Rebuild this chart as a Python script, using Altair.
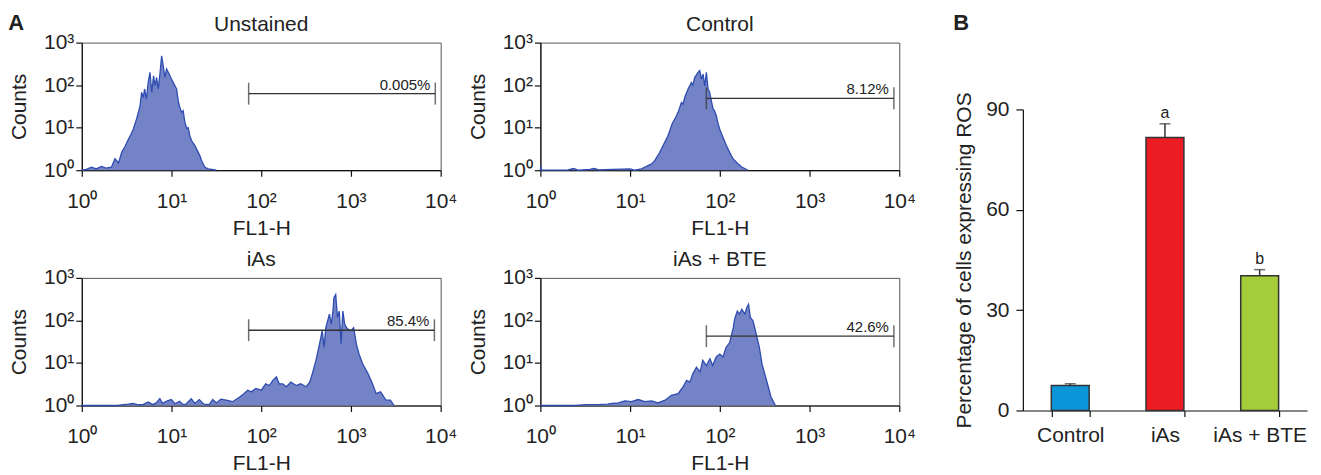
import altair as alt
import pandas as pd

FONT = "Liberation Sans"
INK = "#222222"
FILL = "#7383c6"
EDGE = "#2f4db0"

# ---- panel A: flow cytometry histograms (x = log10 FL1-H, y = log10 counts) ----
PANELS = ["Unstained", "Control", "iAs", "iAs + BTE"]

UNSTAINED_X = [0.00, 0.05, 0.11, 0.16, 0.22, 0.27, 0.33, 0.37, 0.41, 0.445, 0.48, 0.52, 0.55, 0.575,
               0.61, 0.63, 0.65, 0.667, 0.686, 0.70, 0.72, 0.74, 0.76, 0.78, 0.80, 0.816, 0.834,
               0.853, 0.871, 0.89, 0.908, 0.927, 0.945, 0.964, 0.983, 1.001, 1.02, 1.04, 1.057,
               1.075, 1.09, 1.112, 1.13, 1.149, 1.17, 1.187, 1.205, 1.224, 1.24, 1.261, 1.28,
               1.298, 1.32, 1.335, 1.355, 1.372, 1.41, 1.45, 1.50]
UNSTAINED_Y = [0.00, 0.02, 0.07, 0.03, 0.09, 0.05, 0.07, 0.27, 0.17, 0.42, 0.55, 0.73, 0.85, 0.97,
               1.20, 1.35, 1.52, 1.83, 1.71, 1.91, 1.67, 2.06, 2.30, 1.83, 2.22, 1.98, 2.18,
               1.91, 2.26, 2.69, 2.45, 2.18, 2.38, 2.30, 2.22, 2.14, 2.06, 1.98, 1.91,
               1.63, 1.50, 1.36, 1.40, 1.13, 0.98, 1.00, 0.80, 0.70, 0.64, 0.58, 0.50,
               0.42, 0.32, 0.23, 0.14, 0.07, 0.03, 0.02, 0.00]

CONTROL_X = [0.00, 0.005, 0.01, 0.30, 0.37, 0.42, 0.55, 0.60, 0.65, 0.80, 1.00, 1.05, 1.127, 1.20,
             1.24, 1.276, 1.331, 1.387, 1.42, 1.442, 1.47, 1.498, 1.535, 1.572, 1.59, 1.609,
             1.646, 1.683, 1.70, 1.72, 1.757, 1.776, 1.795, 1.813, 1.832, 1.85, 1.869, 1.887,
             1.906, 1.924, 1.94, 1.961, 1.98, 1.998, 2.036, 2.073, 2.11, 2.147, 2.18, 2.202,
             2.24, 2.277, 2.314]
CONTROL_Y = [0.00, 0.10, 0.00, 0.00, 0.04, 0.00, 0.02, 0.04, 0.01, 0.02, 0.03, 0.00, 0.03, 0.11,
             0.15, 0.23, 0.42, 0.66, 0.80, 0.93, 1.10, 1.20, 1.36, 1.59, 1.55, 1.71,
             1.91, 2.06, 2.00, 2.18, 2.30, 2.34, 2.14, 2.26, 1.98, 2.30, 1.91, 1.83,
             1.63, 1.44, 1.40, 1.28, 1.10, 0.97, 0.77, 0.58, 0.42, 0.27, 0.20, 0.15,
             0.08, 0.04, 0.00]

IAS_X = [0.00, 0.40, 0.46, 0.52, 0.57, 0.62, 0.68, 0.74, 0.79, 0.83, 0.87, 0.90, 0.94, 0.997, 1.04,
         1.09, 1.13, 1.16, 1.22, 1.26, 1.31, 1.36, 1.42, 1.46, 1.50, 1.55, 1.61, 1.68, 1.76, 1.81,
         1.85, 1.89, 1.94, 2.00, 2.05, 2.09, 2.13, 2.17, 2.20, 2.24, 2.28, 2.33, 2.39, 2.44, 2.50,
         2.54, 2.57, 2.61, 2.65, 2.68, 2.70, 2.72, 2.76, 2.78, 2.80, 2.81, 2.83, 2.85, 2.87, 2.89,
         2.91, 2.93, 2.96, 3.00, 3.03, 3.06, 3.09, 3.13, 3.19, 3.24, 3.28, 3.33, 3.39, 3.44, 3.48]
IAS_Y = [0.00, 0.00, 0.02, 0.03, 0.05, 0.02, 0.02, 0.08, 0.02, 0.06, 0.16, 0.05, 0.10, 0.14, 0.04,
         0.10, 0.02, 0.03, 0.16, 0.05, 0.14, 0.03, 0.02, 0.14, 0.06, 0.15, 0.125, 0.09, 0.20, 0.28,
         0.36, 0.32, 0.40, 0.36, 0.51, 0.47, 0.59, 0.67, 0.51, 0.51, 0.44, 0.55, 0.47, 0.51, 0.44,
         0.55, 0.75, 1.06, 1.45, 1.76, 1.37, 1.83, 2.15, 1.91, 2.22, 2.53, 2.61, 2.07, 2.22, 1.45,
         2.22, 1.91, 1.80, 1.76, 1.83, 1.45, 1.21, 0.98, 0.75, 0.51, 0.28, 0.32, 0.125, 0.125, 0.00]

BTE_X = [0.00, 0.39, 0.50, 0.645, 0.75, 0.80, 0.87, 0.94, 1.016, 1.09, 1.164, 1.24, 1.31, 1.39,
         1.46, 1.535, 1.59, 1.63, 1.665, 1.70, 1.74, 1.78, 1.81, 1.85, 1.89, 1.92, 1.96, 2.00,
         2.035, 2.07, 2.11, 2.15, 2.165, 2.195, 2.22, 2.245, 2.28, 2.30, 2.32, 2.34, 2.37, 2.41,
         2.44, 2.47, 2.51, 2.54, 2.57, 2.62]
BTE_Y = [0.00, 0.00, 0.02, 0.02, 0.03, 0.05, 0.06, 0.11, 0.09, 0.14, 0.09, 0.11, 0.06, 0.125,
         0.24, 0.28, 0.44, 0.59, 0.55, 0.75, 0.90, 0.79, 1.06, 0.94, 1.10, 0.94, 1.14, 1.21,
         1.14, 1.37, 1.48, 1.83, 2.03, 2.22, 2.15, 2.26, 2.15, 2.30, 2.38, 2.07, 1.99, 1.64,
         1.37, 0.98, 0.67, 0.44, 0.20, 0.00]

HIST_X = [UNSTAINED_X, CONTROL_X, IAS_X, BTE_X]
HIST_Y = [UNSTAINED_Y, CONTROL_Y, IAS_Y, BTE_Y]

GATE_LO = [1.86, 1.85, 1.86, 1.85]
GATE_HI = [3.94, 3.94, 3.93, 3.94]
GATE_Y = [1.80, 1.69, 1.77, 1.63]
GATE_LABELS = ["0.005%", "8.12%", "85.4%", "42.6%"]

X_DECADES = [0, 1, 2, 3, 4]
Y_DECADES = [0, 1, 2, 3]
DECADE_LABELS = ["10\u2070", "10\u00b9", "10\u00b2", "10\u00b3", "10\u2074"]

# ---- panel B: bar chart ----
BAR_GROUPS = ["Control", "iAs", "iAs + BTE"]
BAR_VALUES = [7.5, 81.6, 40.3]
BAR_UPPER = [8.0, 85.7, 42.1]
BAR_LETTERS = ["", "a", "b"]
BAR_COLORS = ["#0a95d8", "#ec1c24", "#a5cd39"]
BAR_TICKS = [0, 30, 60, 90]

label_expr = "[" + ",".join("'%s'" % s for s in DECADE_LABELS) + "][datum.value]"


def hist(i):
    df = pd.DataFrame({"fl": HIST_X[i], "cnt": HIST_Y[i]})
    gdf = pd.DataFrame({"lo": [GATE_LO[i]], "hi": [GATE_HI[i]], "gy": [GATE_Y[i]],
                        "lab": [GATE_LABELS[i]]})
    xsc = alt.Scale(domain=[0, 4], nice=False, zero=False)
    ysc = alt.Scale(domain=[0, 3], nice=False)
    xax = alt.Axis(values=X_DECADES, labelExpr=label_expr, title="FL1-H", tickSize=6,
                   labelPadding=14, titlePadding=6, labelFlush=False)
    yax = alt.Axis(values=Y_DECADES, labelExpr=label_expr, title="Counts", tickSize=6,
                   labelPadding=2, titlePadding=14, labelBaseline="middle")

    def X(f):
        return alt.X(f, type="quantitative", scale=xsc, axis=xax)

    def Y(f):
        return alt.Y(f, type="quantitative", scale=ysc, axis=yax)

    base = alt.Chart(df)
    area = base.mark_area(color=FILL, opacity=1).encode(x=X("fl"), y=Y("cnt"))
    line = base.mark_line(color=EDGE, strokeWidth=1.3).encode(x=X("fl"), y=Y("cnt"))
    g = alt.Chart(gdf)
    hline = g.mark_rule(color="#333333", strokeWidth=1.4).encode(x=X("lo"), x2="hi:Q", y=Y("gy"))
    t_lo = g.mark_tick(orient="vertical", size=22, thickness=1.5, color="#333333").encode(
        x=X("lo"), y=Y("gy"))
    t_hi = g.mark_tick(orient="vertical", size=22, thickness=1.5, color="#333333").encode(
        x=X("hi"), y=Y("gy"))
    txt = g.mark_text(align="right", baseline="alphabetic", dx=-5, dy=-4, fontSize=15,
                      font=FONT, color=INK).encode(x=X("hi"), y=Y("gy"), text="lab:N")
    return alt.layer(area, line, hline, t_lo, t_hi, txt).properties(
        width=360, height=128,
        title=alt.TitleParams(PANELS[i], fontSize=21, fontWeight="normal", offset=-3,
                              color=INK, font=FONT))


grid = alt.concat(hist(0), hist(1), hist(2), hist(3), columns=2,
                  spacing={"row": 108, "column": 100}, bounds="flush",
                  title=alt.TitleParams("A", anchor="start", fontSize=22, fontWeight="bold",
                                        offset=-22, color=INK, font=FONT))

bdf = pd.DataFrame({"group": BAR_GROUPS, "value": BAR_VALUES, "upper": BAR_UPPER,
                    "letter": BAR_LETTERS})
bx = alt.X("group:N", sort=BAR_GROUPS,
           scale=alt.Scale(paddingInner=0.6, paddingOuter=0.3),
           axis=alt.Axis(title=None, labelAngle=0, tickBand="extent", tickSize=6,
                         labelPadding=8, labelBaseline="top"))
byax = alt.Axis(values=BAR_TICKS, title="Percentage of cells expressing ROS", tickSize=7,
                labelPadding=7, titlePadding=11)
bysc = alt.Scale(domain=[0, 90], nice=False)


def BY(f):
    return alt.Y(f, type="quantitative", scale=bysc, axis=byax)


bars = alt.Chart(bdf).mark_bar(stroke="#333333", strokeWidth=1.5).encode(
    x=bx, y=BY("value"),
    color=alt.Color("group:N", scale=alt.Scale(domain=BAR_GROUPS, range=BAR_COLORS), legend=None))
err = alt.Chart(bdf).mark_rule(color="#333333", strokeWidth=1.5).encode(
    x=bx, y=BY("value"), y2="upper:Q")
cap = alt.Chart(bdf).mark_tick(orient="horizontal", size=11, thickness=1.5, color="#333333").encode(
    x=bx, y=BY("upper"))
letters = alt.Chart(bdf).mark_text(baseline="alphabetic", dy=-6, fontSize=16, font=FONT,
                                   color=INK).encode(x=bx, y=BY("upper"), text="letter:N")
bar = alt.layer(bars, err, cap, letters).properties(
    width=285, height=302, view=alt.ViewBackground(stroke="transparent"))

# empty strip above the bar chart, so that its plot starts lower than panel A's top row
spacer = alt.Chart(bdf).mark_rule(opacity=0).encode(
    x=alt.value(0), x2=alt.value(1), y=alt.value(0)).properties(
    width=285, height=1, view=alt.ViewBackground(stroke="transparent"))

panel_b = alt.vconcat(spacer, bar, spacing=46).properties(
    title=alt.TitleParams("B", anchor="start", fontSize=22, fontWeight="bold", offset=7,
                          color=INK, font=FONT))

chart = alt.hconcat(grid, panel_b, spacing=37).properties(
    padding={"left": 0, "top": 3, "right": 5, "bottom": 0}
).configure_view(
    stroke="#555555", strokeWidth=1
).configure_axis(
    labelFont=FONT, titleFont=FONT, labelFontSize=21, titleFontSize=21,
    titleFontWeight="normal", labelColor=INK, titleColor=INK, domainColor="#111111",
    tickColor="#111111", domainWidth=1.2, tickWidth=1.2, grid=False
).configure_title(font=FONT)

chart.save("out.html", embed_options={"renderer": "svg", "actions": False})
